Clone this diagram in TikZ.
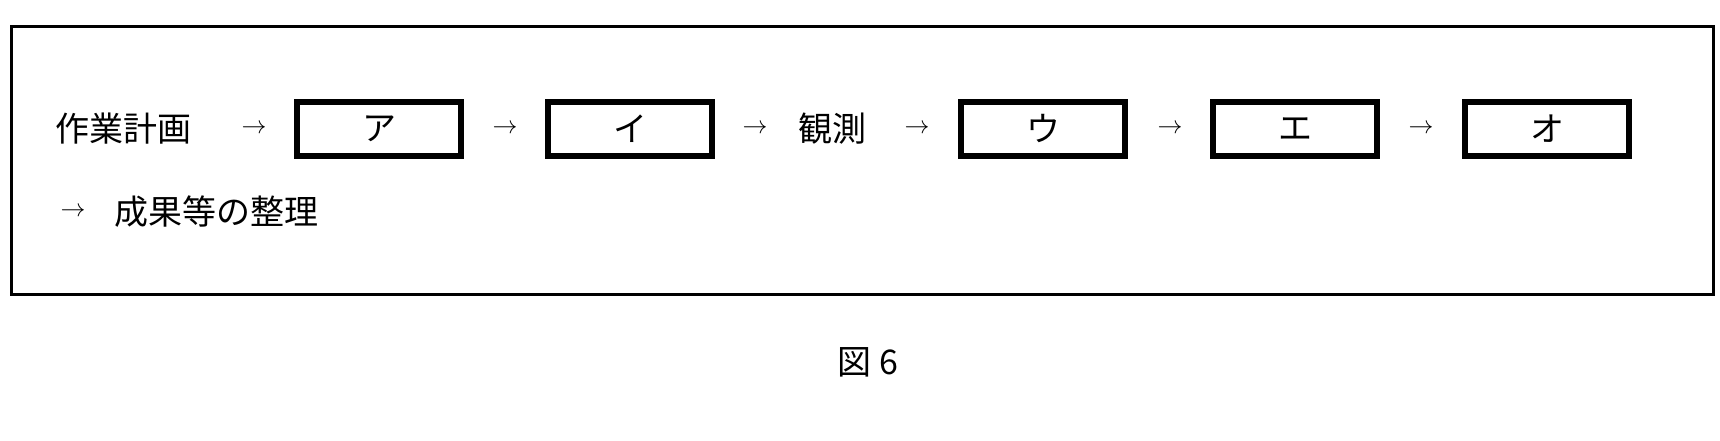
\documentclass[tikz,border=0pt]{standalone}
\usepackage{fontspec}
\newfontfamily\cjk{Noto Sans CJK JP}
\begin{document}
\begin{tikzpicture}[x=1pt,y=-1pt,
 txt/.style={inner sep=0,font=\cjk\fontsize{34}{40}\selectfont,anchor=west},
 arr/.style={inner sep=0,font=\fontsize{36}{40}\selectfont},
 kbox/.style={draw,line width=6pt,minimum width=164pt,minimum height=54pt,inner sep=0,font=\cjk\fontsize{34}{40}\selectfont}]
\useasboundingbox (0,0) rectangle (1720,440);
\draw[line width=3pt] (11,26) rectangle (1713,294);
\node[txt] (t1) at (55,129) {作業計画};
\node[arr] (a1) at (254,129) {\(\rightarrow\)};
\node[kbox] (b1) at (379,129) {ア};
\node[arr] (a2) at (505,129) {\(\rightarrow\)};
\node[kbox] (b2) at (630,129) {イ};
\node[arr] (a3) at (755,129) {\(\rightarrow\)};
\node[txt] (t2) at (798,129) {観測};
\node[arr] (a4) at (917,129) {\(\rightarrow\)};
\node[kbox] (b3) at (1043,129) {ウ};
\node[arr] (a5) at (1170,129) {\(\rightarrow\)};
\node[kbox] (b4) at (1295,129) {エ};
\node[arr] (a6) at (1421,129) {\(\rightarrow\)};
\node[kbox] (b5) at (1547,129) {オ};
\node[arr] (a7) at (73,212) {\(\rightarrow\)};
\node[txt] (t3) at (114,212) {成果等の整理};
\node[inner sep=0,font=\cjk\fontsize{34}{40}\selectfont] (cap) at (868,362) {図 6};
\end{tikzpicture}
\end{document}
